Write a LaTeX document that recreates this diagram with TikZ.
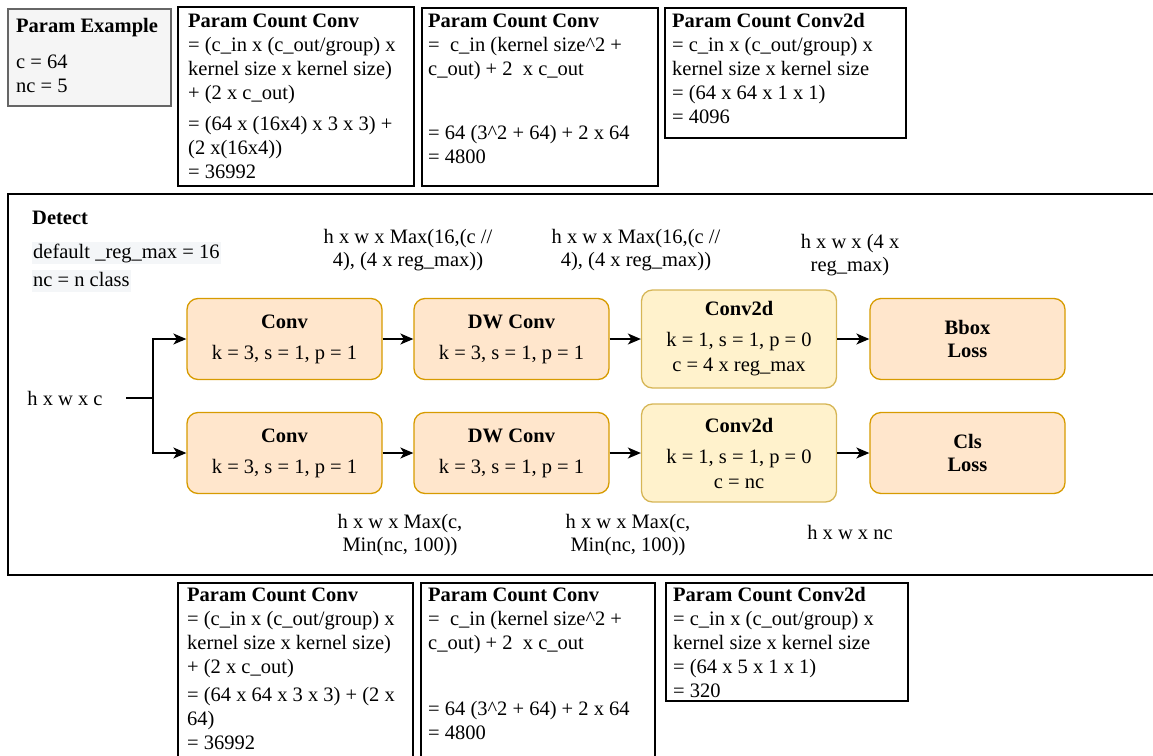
\documentclass[tikz,border=0pt]{standalone}
\usepackage{fontspec}
\setmainfont{Liberation Serif}
\usetikzlibrary{arrows.meta}
\definecolor{orangefill}{HTML}{FFE6CC}
\definecolor{orangeline}{HTML}{D79B00}
\definecolor{yellowfill}{HTML}{FFF2CC}
\definecolor{yellowline}{HTML}{D6B656}
\definecolor{greyfill}{HTML}{F5F5F5}
\definecolor{greyline}{HTML}{666666}
\definecolor{notebg}{HTML}{F4F6F8}
% fixed first-line height, so every text block starts at a known baseline
\newcommand{\fl}{\rule{0pt}{16pt}}
\begin{document}
\begin{tikzpicture}[x=1pt,y=-1pt,
  every node/.style={font=\fontsize{20.5}{23}\selectfont, text=black},
  frame/.style={draw=black, line width=1.6pt, inner sep=0pt, anchor=north west},
  greyframe/.style={frame, draw=greyline, fill=greyfill},
  note/.style={anchor=north west, inner sep=0pt, align=left, font=\fontsize{20.5}{24}\selectfont},
  shaded/.style={anchor=base west, fill=notebg, inner sep=1pt, text height=15pt, text depth=5pt},
  label/.style={align=center, inner sep=0pt},
  block/.style={rounded corners=11pt, line width=1.3pt, minimum width=195pt, align=center, inner sep=0pt},
  orangeblock/.style={block, fill=orangefill, draw=orangeline, minimum height=81pt},
  yellowblock/.style={block, fill=yellowfill, draw=yellowline, minimum height=98pt},
  wire/.style={line width=1.5pt},
  link/.style={wire, -{Stealth[length=13pt, width=11pt, inset=3.5pt]}}
]
\clip (0,0) rectangle (1153,755);

% ---- parameter examples, upper row
\node[greyframe, minimum width=163pt, minimum height=97pt] (pex) at (7,8) {};
\node[note] (pext) at (16,16) {\fl\textbf{Param Example}\\[12pt]c = 64\\nc = 5};

\node[frame, minimum width=236pt, minimum height=179pt] (pa1) at (177,6) {};
\node[note] (pa1t) at (188,11) {\fl\textbf{Param Count Conv}\\
= (c\_in x (c\_out/group) x\\
kernel size x kernel size)\\
+ (2 x c\_out)\\[7pt]
= (64 x (16x4) x 3 x 3) +\\
(2 x(16x4))\\
= 36992};

\node[frame, minimum width=236pt, minimum height=178pt] (pa2) at (421,7) {};
\node[note] (pa2t) at (428,11) {\fl\textbf{Param Count Conv}\\
= \ c\_in (kernel size\textasciicircum 2 +\\
c\_out) + 2 \ x c\_out\\[40pt]
= 64 (3\textasciicircum 2 + 64) + 2 x 64\\
= 4800};

\node[frame, minimum width=241pt, minimum height=130pt] (pa3) at (664,7) {};
\node[note] (pa3t) at (672,11) {\fl\textbf{Param Count Conv2d}\\
= c\_in x (c\_out/group) x\\
kernel size x kernel size\\
= (64 x 64 x 1 x 1)\\
= 4096};

% ---- detect head
\node[frame, minimum width=1163pt, minimum height=381pt] (det) at (7,193) {};
\node[anchor=west, inner sep=0pt] (dett) at (32,218) {\textbf{Detect}};
\node[shaded] (regmax) at (32,258) {default \_reg\_max = 16};
\node[shaded] (ncdef) at (32,286) {nc = n class};

\node[orangeblock] (conv1) at (284.5,339) {\textbf{Conv}\\[8pt]k = 3, s = 1, p = 1};
\node[orangeblock] (dw1) at (511.5,339) {\textbf{DW Conv}\\[8pt]k = 3, s = 1, p = 1};
\node[yellowblock] (cd1) at (739,339) {\textbf{Conv2d}\\[8pt]k = 1, s = 1, p = 0\\[2pt]c = 4 x reg\_max};
\node[orangeblock] (bbox) at (967.5,339) {\textbf{Bbox}\\\textbf{Loss}};

\node[orangeblock] (conv2) at (284.5,453) {\textbf{Conv}\\[8pt]k = 3, s = 1, p = 1};
\node[orangeblock] (dw2) at (511.5,453) {\textbf{DW Conv}\\[8pt]k = 3, s = 1, p = 1};
\node[yellowblock] (cd2) at (739,453) {\textbf{Conv2d}\\[8pt]k = 1, s = 1, p = 0\\[2pt]c = nc};
\node[orangeblock] (cls) at (967.5,453) {\textbf{Cls}\\\textbf{Loss}};

\node[inner sep=0pt] (inp) at (65,398) {h x w x c};
\coordinate (inpout) at (126,398);
\coordinate (split) at (153,398);
\draw[wire] (inpout) -- (split);
\draw[link] (split) |- (conv1);
\draw[link] (split) |- (conv2);

\draw[link] (conv1) -- (dw1);
\draw[link] (dw1) -- (cd1);
\draw[link] (cd1) -- (bbox);
\draw[link] (conv2) -- (dw2);
\draw[link] (dw2) -- (cd2);
\draw[link] (cd2) -- (cls);

% tensor shapes
\node[label] (sh1) at (408,250) {h x w x Max(16,(c //\\4), (4 x reg\_max))};
\node[label] (sh2) at (636,250) {h x w x Max(16,(c //\\4), (4 x reg\_max))};
\node[label] (sh3) at (850,255) {h x w x (4 x\\reg\_max)};
\node[label] (sh4) at (400,535) {h x w x Max(c,\\Min(nc, 100))};
\node[label] (sh5) at (628,535) {h x w x Max(c,\\Min(nc, 100))};
\node[label] (sh6) at (850,532) {h x w x nc};

% ---- parameter examples, lower row
\node[frame, minimum width=235pt, minimum height=190pt] (pb1) at (177,582) {};
\node[note] (pb1t) at (187,585) {\fl\textbf{Param Count Conv}\\
= (c\_in x (c\_out/group) x\\
kernel size x kernel size)\\
+ (2 x c\_out)\\[4pt]
= (64 x 64 x 3 x 3) + (2 x\\
64)\\
= 36992};

\node[frame, minimum width=234pt, minimum height=190pt] (pb2) at (420,582) {};
\node[note] (pb2t) at (428,585) {\fl\textbf{Param Count Conv}\\
= \ c\_in (kernel size\textasciicircum 2 +\\
c\_out) + 2 \ x c\_out\\[42pt]
= 64 (3\textasciicircum 2 + 64) + 2 x 64\\
= 4800};

\node[frame, minimum width=242pt, minimum height=118pt] (pb3) at (665,582) {};
\node[note] (pb3t) at (673,585) {\fl\textbf{Param Count Conv2d}\\
= c\_in x (c\_out/group) x\\
kernel size x kernel size\\
= (64 x 5 x 1 x 1)\\
= 320};
\end{tikzpicture}
\end{document}
